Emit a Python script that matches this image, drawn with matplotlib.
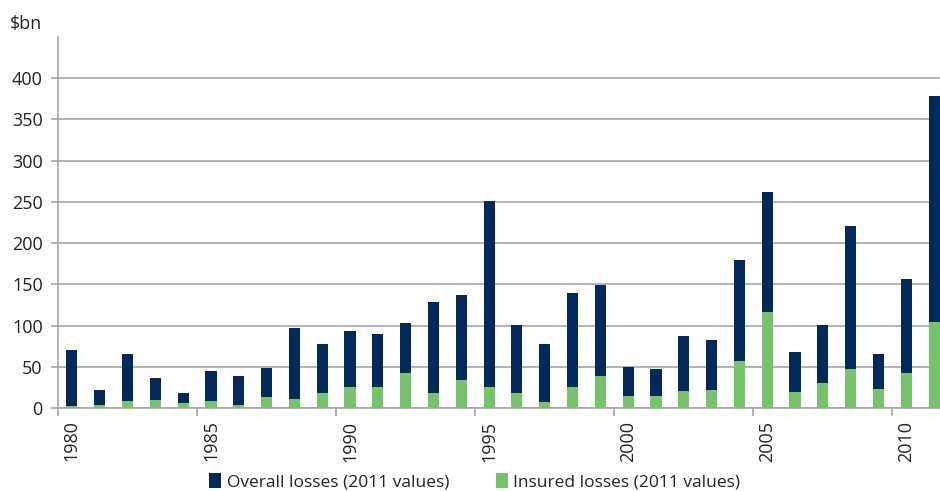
import matplotlib.pyplot as plt
import numpy as np

# Datos (miles de millones de dólares, valores de 2011)
years = list(range(1980, 2012))
overall = [70, 22, 66, 36, 18, 45, 39, 49, 97, 78,
           93, 90, 103, 129, 137, 251, 101, 78, 139, 149,
           50, 47, 87, 82, 179, 262, 68, 101, 221, 65,
           157, 378]
insured = [3, 4, 9, 10, 6, 9, 4, 13, 11, 18,
           26, 25, 43, 18, 34, 25, 18, 7, 26, 39,
           14, 15, 21, 22, 57, 116, 19, 30, 47, 23,
           43, 104]

navy = '#03295A'
green = '#78C26E'
grey = '#A6A6A6'

plt.rcParams['font.family'] = ['Open Sans', 'DejaVu Sans']

fig = plt.figure(figsize=(9.4, 4.91), dpi=100)
ax = fig.add_axes([58 / 940, 1 - 408 / 491, 890 / 940, 371 / 491])

x = np.arange(len(years))
ax.bar(x, overall, width=0.4, color=navy, label='Overall losses (2011 values)', zorder=3)
ax.bar(x, insured, width=0.4, color=green, label='Insured losses (2011 values)', zorder=4)

ax.set_xlim(-0.5, len(years) - 0.5)
ax.set_ylim(0, 450)

# Ejes y cuadrícula
ax.set_yticks(range(0, 401, 50))
ax.yaxis.grid(True, color=grey, linewidth=1.2, zorder=0)
for s in ['top', 'right']:
    ax.spines[s].set_visible(False)
for s in ['left', 'bottom']:
    ax.spines[s].set_color(grey)
    ax.spines[s].set_linewidth(1.2)
ax.tick_params(axis='y', length=5, width=1.2, color=grey, pad=6, labelsize=13, labelcolor='#222222')

# Etiquetas centradas en la barra, marcas entre categorías
lbl_idx = [i for i, y in enumerate(years) if y % 5 == 0]
ax.set_xticks(lbl_idx)
ax.set_xticklabels([str(years[i]) for i in lbl_idx], rotation=90, fontsize=13, color='#222222')
ax.tick_params(axis='x', which='major', length=0, pad=9)
ax.set_xticks([i - 0.5 for i in lbl_idx], minor=True)
ax.tick_params(axis='x', which='minor', length=6, width=1.2, color=grey)

fig.text(10 / 940, 1 - 24 / 491, '$bn', fontsize=13, color='#222222', va='center')

fig.legend(loc='center', bbox_to_anchor=(0.505, 1 - 482 / 491), ncol=2, frameon=False,
           fontsize=12.5, handlelength=0.7, handleheight=0.9, handletextpad=0.3,
           columnspacing=2.7, labelcolor='#222222', borderpad=0)

fig.savefig('out.png', dpi=100)
